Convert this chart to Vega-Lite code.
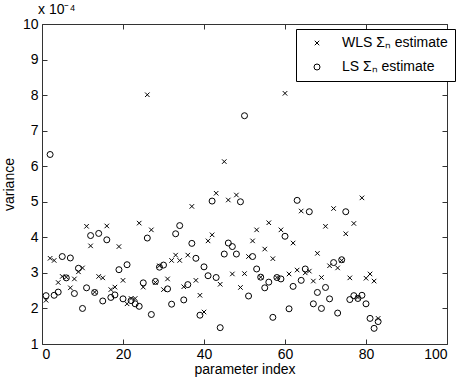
{
  "$schema": "https://vega.github.io/schema/vega-lite/v6.json",
  "width": 405,
  "height": 320,
  "autosize": "none",
  "padding": {"left": 42, "top": 24, "right": 16, "bottom": 38},
  "background": "white",
  "config": {
    "font": "Liberation Sans",
    "view": {"stroke": "#333333", "strokeWidth": 1},
    "axis": {
      "grid": false,
      "domain": false,
      "tickColor": "#333333",
      "tickSize": 5,
      "offset": -5,
      "labelFontSize": 14,
      "labelColor": "black",
      "labelFont": "Liberation Sans",
      "titleFont": "Liberation Sans",
      "titleFontSize": 14,
      "titleFontWeight": "normal",
      "titleColor": "black",
      "labelPadding": 4
    }
  },
  "title": {"text": "x 10⁻⁴", "anchor": "start", "frame": "group", "fontSize": 14, "fontWeight": "normal", "font": "Liberation Sans", "offset": 0, "dx": -4, "color": "black"},
  "data": {"values": [
    {"index": 1, "WLS": 2.23, "LS": 2.36},
    {"index": 2, "WLS": 3.41, "LS": 6.33},
    {"index": 3, "WLS": 3.35, "LS": 2.37},
    {"index": 4, "WLS": 2.73, "LS": 2.46},
    {"index": 5, "WLS": 2.90, "LS": 3.46},
    {"index": 6, "WLS": 2.88, "LS": 2.86},
    {"index": 7, "WLS": 2.58, "LS": 3.42},
    {"index": 8, "WLS": 2.83, "LS": 2.42},
    {"index": 9, "WLS": 3.03, "LS": 3.13},
    {"index": 10, "WLS": 3.14, "LS": 2.00},
    {"index": 11, "WLS": 4.31, "LS": 2.58},
    {"index": 12, "WLS": 3.76, "LS": 4.05},
    {"index": 13, "WLS": 2.46, "LS": 2.45},
    {"index": 14, "WLS": 2.90, "LS": 4.11},
    {"index": 15, "WLS": 2.86, "LS": 2.21},
    {"index": 16, "WLS": 4.32, "LS": 3.93},
    {"index": 17, "WLS": 2.53, "LS": 2.31},
    {"index": 18, "WLS": 2.60, "LS": 2.38},
    {"index": 19, "WLS": 3.74, "LS": 3.09},
    {"index": 20, "WLS": 2.79, "LS": 2.27},
    {"index": 21, "WLS": 2.13, "LS": 3.23},
    {"index": 22, "WLS": 2.28, "LS": 2.22},
    {"index": 23, "WLS": 2.28, "LS": 2.13},
    {"index": 24, "WLS": 4.40, "LS": 2.06},
    {"index": 25, "WLS": 2.60, "LS": 2.72},
    {"index": 26, "WLS": 8.01, "LS": 3.98},
    {"index": 27, "WLS": 4.21, "LS": 1.83},
    {"index": 28, "WLS": 2.73, "LS": 2.76},
    {"index": 29, "WLS": 3.20, "LS": 3.16},
    {"index": 30, "WLS": 2.53, "LS": 3.22},
    {"index": 31, "WLS": 2.83, "LS": 2.55},
    {"index": 32, "WLS": 3.35, "LS": 2.12},
    {"index": 33, "WLS": 3.50, "LS": 4.10},
    {"index": 34, "WLS": 3.35, "LS": 4.33},
    {"index": 35, "WLS": 2.61, "LS": 2.24},
    {"index": 36, "WLS": 3.50, "LS": 2.67},
    {"index": 37, "WLS": 4.87, "LS": 3.83},
    {"index": 38, "WLS": 2.79, "LS": 3.41},
    {"index": 39, "WLS": 2.37, "LS": 1.81},
    {"index": 40, "WLS": 1.90, "LS": 3.17},
    {"index": 41, "WLS": 3.90, "LS": 2.92},
    {"index": 42, "WLS": 4.07, "LS": 5.02},
    {"index": 43, "WLS": 5.24, "LS": 2.87},
    {"index": 44, "WLS": 2.68, "LS": 1.46},
    {"index": 45, "WLS": 6.13, "LS": 3.53},
    {"index": 46, "WLS": 5.05, "LS": 3.84},
    {"index": 47, "WLS": 2.97, "LS": 3.74},
    {"index": 48, "WLS": 5.19, "LS": 3.53},
    {"index": 49, "WLS": 2.59, "LS": 5.00},
    {"index": 50, "WLS": 2.98, "LS": 7.42},
    {"index": 51, "WLS": 3.46, "LS": 2.35},
    {"index": 52, "WLS": 3.90, "LS": 3.46},
    {"index": 53, "WLS": 4.21, "LS": 3.11},
    {"index": 54, "WLS": 2.88, "LS": 2.88},
    {"index": 55, "WLS": 3.67, "LS": 2.58},
    {"index": 56, "WLS": 4.41, "LS": 2.74},
    {"index": 57, "WLS": 3.40, "LS": 1.75},
    {"index": 58, "WLS": 2.87, "LS": 2.87},
    {"index": 59, "WLS": 4.21, "LS": 2.83},
    {"index": 60, "WLS": 8.05, "LS": 4.03},
    {"index": 61, "WLS": 2.97, "LS": 1.99},
    {"index": 62, "WLS": 3.84, "LS": 2.62},
    {"index": 63, "WLS": 3.08, "LS": 5.04},
    {"index": 64, "WLS": 4.74, "LS": 2.79},
    {"index": 65, "WLS": 3.00, "LS": 3.11},
    {"index": 66, "WLS": 3.05, "LS": 4.72},
    {"index": 67, "WLS": 2.77, "LS": 2.13},
    {"index": 68, "WLS": 3.55, "LS": 2.45},
    {"index": 69, "WLS": 2.87, "LS": 2.00},
    {"index": 70, "WLS": 4.31, "LS": 2.59},
    {"index": 71, "WLS": 3.20, "LS": 2.27},
    {"index": 72, "WLS": 4.81, "LS": 3.29},
    {"index": 73, "WLS": 3.14, "LS": 1.87},
    {"index": 74, "WLS": 3.35, "LS": 3.37},
    {"index": 75, "WLS": 4.10, "LS": 4.72},
    {"index": 76, "WLS": 2.86, "LS": 2.25},
    {"index": 77, "WLS": 4.39, "LS": 2.36},
    {"index": 78, "WLS": 2.31, "LS": 2.28},
    {"index": 79, "WLS": 5.11, "LS": 2.37},
    {"index": 80, "WLS": 2.85, "LS": 2.13},
    {"index": 81, "WLS": 2.97, "LS": 1.72},
    {"index": 82, "WLS": 2.77, "LS": 1.44},
    {"index": 83, "WLS": 1.72, "LS": 1.63}
  ]},
  "transform": [{"fold": ["WLS", "LS"], "as": ["estimator", "v"]}],
  "layer": [
    {
      "transform": [{"filter": "datum.estimator === 'WLS'"}],
      "mark": {"type": "point", "filled": false, "strokeWidth": 1, "color": "black", "opacity": 1},
      "encoding": {
        "x": {"field": "index", "type": "quantitative", "scale": {"domain": [0, 100], "nice": false, "zero": false},
              "axis": {"orient": "bottom", "values": [0, 20, 40, 60, 80, 100], "title": "parameter index", "titlePadding": 1, "labelPadding": 3}},
        "y": {"field": "v", "type": "quantitative", "scale": {"domain": [1, 10], "nice": false, "zero": false},
              "axis": {"orient": "left", "values": [1, 2, 3, 4, 5, 6, 7, 8, 9, 10], "title": "variance", "titlePadding": 6, "labelPadding": 4}},
        "shape": {"field": "estimator", "type": "nominal",
                  "scale": {"domain": ["WLS", "LS"], "range": ["M-0.75,-0.75L0.75,0.75M-0.75,0.75L0.75,-0.75", "circle"]},
                  "legend": {"orient": "none", "legendX": 254, "legendY": 5, "title": null,
                             "strokeColor": "black", "fillColor": "white", "padding": 7,
                             "symbolOffset": 7, "labelOffset": 18, "rowPadding": 10,
                             "labelFontSize": 14, "labelFont": "Liberation Sans", "labelColor": "black",
                             "symbolStrokeColor": "black", "symbolStrokeWidth": 1, "symbolSize": 36,
                             "labelExpr": "datum.label === 'WLS' ? 'WLS Σₙ estimate' : 'LS Σₙ estimate'"}},
        "size": {"value": 36}
      }
    },
    {
      "transform": [{"filter": "datum.estimator === 'LS'"}],
      "mark": {"type": "point", "filled": false, "strokeWidth": 1, "color": "black", "opacity": 1},
      "encoding": {
        "x": {"field": "index", "type": "quantitative", "scale": {"domain": [0, 100], "nice": false, "zero": false},
              "axis": {"orient": "top", "values": [0, 20, 40, 60, 80, 100], "labels": false, "title": null}},
        "y": {"field": "v", "type": "quantitative", "scale": {"domain": [1, 10], "nice": false, "zero": false},
              "axis": {"orient": "right", "values": [1, 2, 3, 4, 5, 6, 7, 8, 9, 10], "labels": false, "title": null}},
        "shape": {"field": "estimator", "type": "nominal"},
        "size": {"value": 36}
      }
    }
  ],
  "resolve": {"axis": {"x": "independent", "y": "independent"}}
}
